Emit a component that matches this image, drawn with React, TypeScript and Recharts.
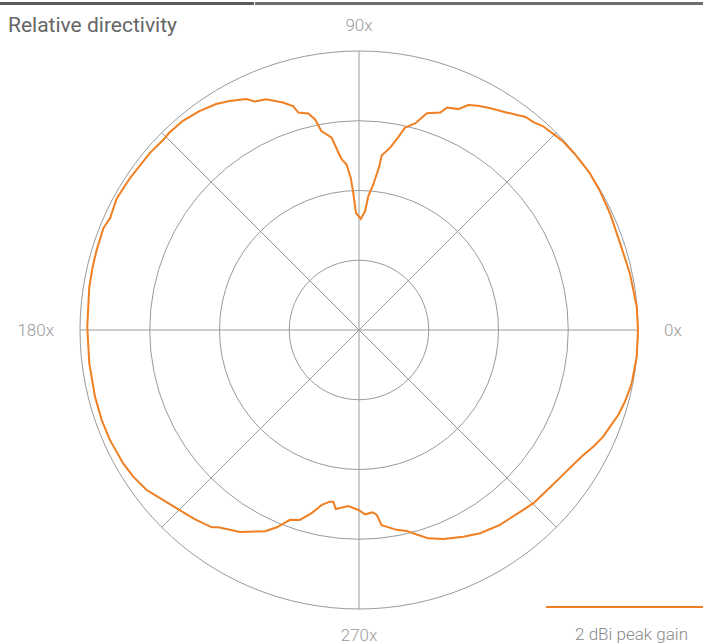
import { PolarAngleAxis, PolarGrid, PolarRadiusAxis, Radar, RadarChart } from 'recharts';

// angle (deg, counter-clockwise from 0x) and relative gain (1 = outer ring)
const angles = [
  0, 4.8, 11.8, 18.4, 24.9, 30, 34.2, 38.7, 42.7, 45.1, 47.9, 50, 52, 55.7, 59.3, 62, 64.1, 65.8,
  68.4, 69.5, 72.6, 74.8, 77.2, 78.8, 80.3, 82.6, 82.9, 84.4, 86, 87.1, 89.1, 91.5, 92.4, 93.1,
  94.3, 95.8, 96.4, 98.1, 100.7, 101.8, 103.2, 105.6, 106.4, 108.5, 111.9, 114.5, 116, 119.5,
  122.3, 126.1, 130.1, 133.9, 135.8, 139.8, 146.5, 151.5, 155.8, 158.3, 163, 166.6, 170.9,
  179.3, 187, 194.2, 199.3, 203.8, 209.5, 213, 217, 220.2, 224.4, 229, 233.3, 234.5, 239.5,
  245, 247.4, 250, 252.7, 255.5, 258, 260.4, 261.5, 262.6, 266.5, 269.8, 271.9, 274.3, 275.5,
  276.6, 280.7, 283.3, 286.1, 288.4, 292, 296.8, 300.8, 305.9, 312.4, 315.2, 320.5, 325.8,
  330.4, 333.5, 336.4, 338.9, 341.9, 344.9, 348.9, 354.5,
];
const gain = [
  1.0, 0.999, 0.992, 0.986, 0.992, 0.997, 1.0, 0.998, 0.996, 0.99, 0.984, 0.973, 0.969, 0.943, 0.924, 0.91, 0.896, 0.868,
  0.858, 0.832, 0.814, 0.767, 0.744, 0.697, 0.663, 0.631, 0.592, 0.524, 0.481, 0.426, 0.398, 0.42, 0.492, 0.546,
  0.595, 0.615, 0.633, 0.696, 0.726, 0.772, 0.797, 0.809, 0.837, 0.86, 0.891, 0.9, 0.921, 0.943,
  0.958, 0.971, 0.98, 0.981, 0.978, 0.982, 0.985, 0.988, 0.978, 0.986, 0.983, 0.981, 0.979,
  0.974, 0.974, 0.976, 0.977, 0.976, 0.971, 0.965, 0.953, 0.934, 0.914, 0.898, 0.882, 0.868, 0.84,
  0.796, 0.766, 0.724, 0.713, 0.678, 0.641, 0.624, 0.622, 0.647, 0.632, 0.645, 0.661, 0.655, 0.666,
  0.704, 0.729, 0.74, 0.765, 0.787, 0.808, 0.83, 0.848, 0.862, 0.873, 0.881, 0.887, 0.9,
  0.918, 0.938, 0.955, 0.964, 0.978, 0.987, 0.996, 1.0,
];
const axisTicks = [0, 90, 180, 270];
const axisLabels: Record<number, string> = { 0: '0x', 90: '90x', 180: '180x', 270: '270x' };
const spokeAngles = [0, 45, 90, 135, 180, 225, 270, 315];
const ringLevels = [0, 0.25, 0.5, 0.75, 1];

const data = angles.map((angle, i) => ({ angle, gain: gain[i] }));

const ORANGE = '#f07f22';
const FONT = 'Roboto, "Noto Sans", sans-serif';

function AngleTick(props: any) {
  const { x, y, payload, textAnchor } = props;
  const label = axisLabels[payload.value];
  if (!label) return <g />;
  const rad = (payload.coordinate * Math.PI) / 180;
  return (
    <text
      x={x + 18 * Math.cos(rad)}
      y={y - 18 * Math.sin(rad)}
      textAnchor={textAnchor}
      dominantBaseline="central"
      fill="#9a9a9a"
      fontSize={17}
      fontWeight={300}
      fontFamily={FONT}
    >
      {label}
    </text>
  );
}

export default function App() {
  return (
    <div style={{ position: 'absolute', left: 0, top: 0, width: 703, height: 644, background: '#fff', fontFamily: FONT }}>
      <div style={{ position: 'absolute', left: 0, top: 2, width: 254, height: 3, background: '#5a5a5a' }} />
      <div style={{ position: 'absolute', left: 255, top: 2, width: 448, height: 3, background: '#6e6e6e' }} />
      <div style={{ position: 'absolute', left: 8, top: 11, fontSize: 21, color: '#666', lineHeight: '28px' }}>
        Relative directivity
      </div>

      <RadarChart
        width={703}
        height={644}
        data={data}
        cx={359}
        cy={330}
        outerRadius={279}
        startAngle={0}
        endAngle={360}
        margin={{ top: 0, right: 0, bottom: 0, left: 0 }}
      >
        <PolarGrid gridType="circle" polarAngles={spokeAngles} stroke="#9a9a9a" strokeWidth={1} />
        <PolarAngleAxis
          dataKey="angle"
          type="number"
          domain={[0, 360]}
          ticks={axisTicks}
          axisLine={false}
          tickLine={false}
          tick={<AngleTick />}
        />
        <PolarRadiusAxis type="number" domain={[0, 1]} ticks={ringLevels} tick={false} axisLine={false} />
        <Radar
          name="2 dBi peak gain"
          dataKey="gain"
          stroke={ORANGE}
          strokeWidth={2}
          fill="none"
          fillOpacity={0}
          dot={false}
          isAnimationActive={false}
        />
      </RadarChart>

      <div style={{ position: 'absolute', left: 546, top: 606, width: 157, height: 2, background: ORANGE }} />
      <div
        style={{
          position: 'absolute',
          right: 15,
          top: 622,
          fontSize: 17,
          fontWeight: 300,
          color: '#8a8a8a',
          lineHeight: '24px',
        }}
      >
        2 dBi peak gain
      </div>
    </div>
  );
}
